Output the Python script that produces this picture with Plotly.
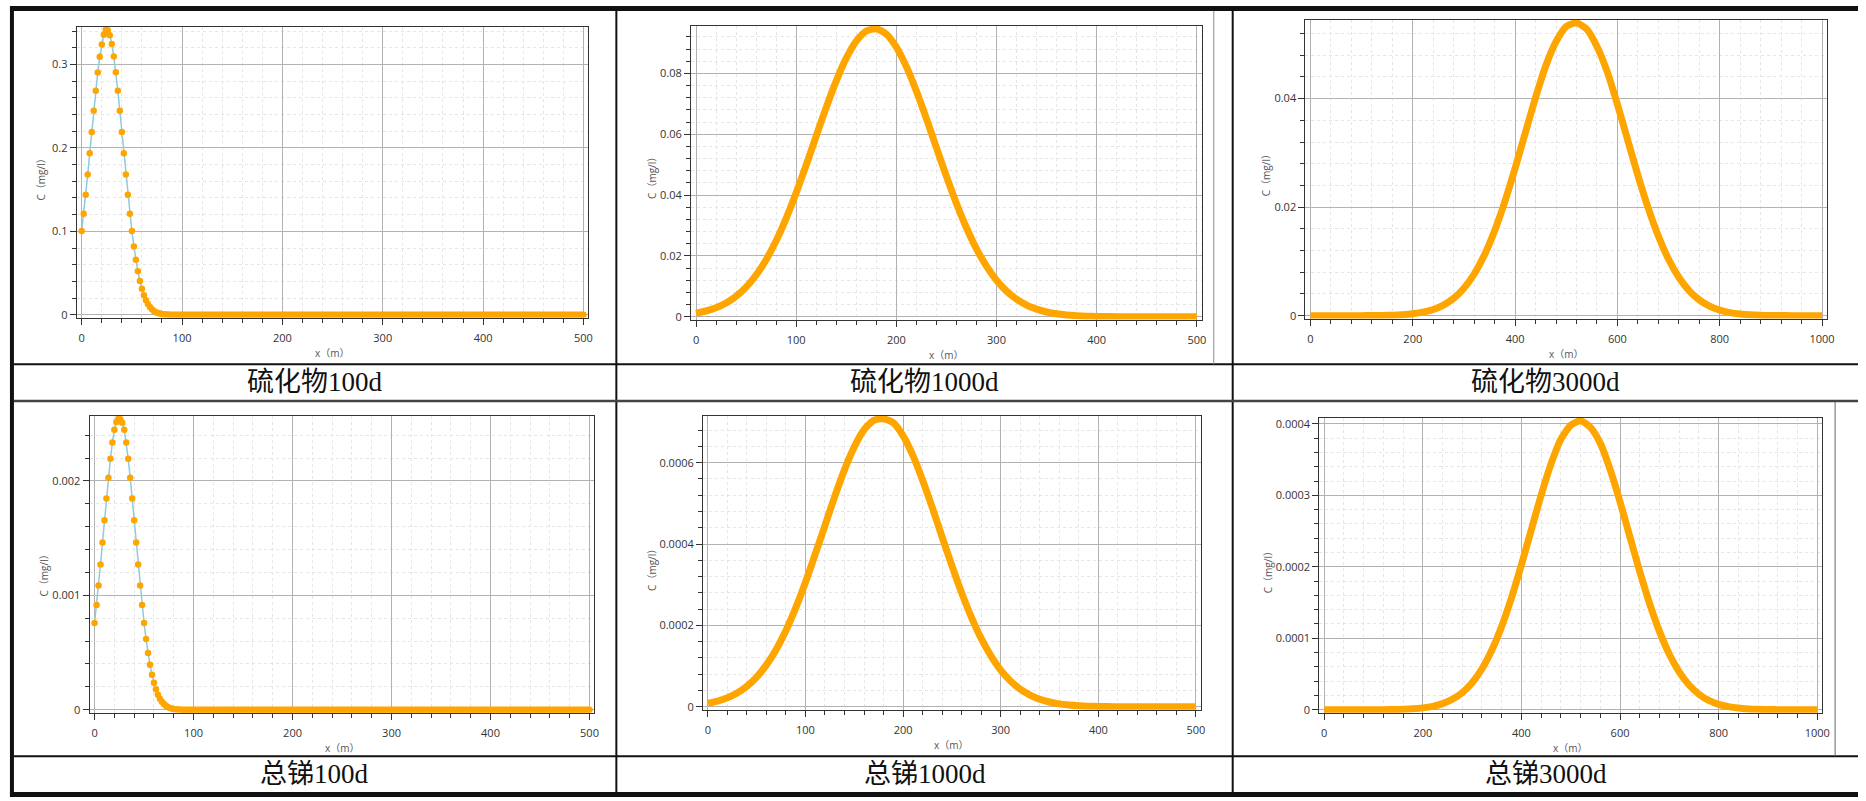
import plotly.graph_objects as go

# ---------------- data ----------------
# 100-day runs: sampled every 2 m, values read up to x = 90 m, zero afterwards
x_100d = list(range(0, 501, 2))
c_sulfide_100d_head = [
    0.1003, 0.1210, 0.1437, 0.1680, 0.1934, 0.2191, 0.2444, 0.2684, 0.2903, 0.3090,
    0.3238, 0.3355, 0.3416, 0.3410, 0.3350, 0.3245, 0.3095, 0.2905, 0.2684, 0.2444,
    0.2191, 0.1934, 0.1680, 0.1437, 0.1210, 0.1003, 0.0819, 0.0658, 0.0520, 0.0405,
    0.0311, 0.0235, 0.0174, 0.0128, 0.0092, 0.0065, 0.0046, 0.0031, 0.0021, 0.0014,
    0.0009, 0.0006, 0.0004, 0.0002, 0.0001, 0.0001,
]
c_sb_100d_head = [
    0.000758, 0.000915, 0.001086, 0.001270, 0.001462, 0.001656, 0.001847, 0.002029, 0.002194, 0.002336,
    0.002448, 0.002515, 0.002544, 0.002540, 0.002510, 0.002448, 0.002336, 0.002194, 0.002029, 0.001847,
    0.001656, 0.001462, 0.001270, 0.001086, 0.000915, 0.000758, 0.000619, 0.000497, 0.000393, 0.000306,
    0.000235, 0.000178, 0.000132, 0.0000968, 0.0000695, 0.0000491, 0.0000348, 0.0000234, 0.0000159, 0.0000106,
    0.0000068, 0.0000045, 0.0000030, 0.0000015, 0.0000008, 0.0000008,
]
c_sulfide_100d = c_sulfide_100d_head + [0.0] * (len(x_100d) - len(c_sulfide_100d_head))
c_sb_100d = c_sb_100d_head + [0.0] * (len(x_100d) - len(c_sb_100d_head))

# 1000-day runs: every 10 m
x_1000d = list(range(0, 501, 10))
c_sulfide_1000d = [
    0.00116, 0.00188, 0.00296, 0.00452, 0.00673, 0.00974, 0.01371, 0.01876, 0.02497, 0.03234,
    0.04073, 0.04988, 0.05942, 0.06884, 0.07757, 0.08502, 0.09063, 0.09396, 0.09470, 0.09292,
    0.08864, 0.08223, 0.07420, 0.06512, 0.05558, 0.04615, 0.03726, 0.02926, 0.02234, 0.01661,
    0.01199, 0.00843, 0.00576, 0.00383, 0.00248, 0.00156, 0.00095, 0.00057, 0.00033, 0.00018,
    0.00010, 0.00005, 0.00003, 0.00001, 0.0, 0.0, 0.0, 0.0, 0.0, 0.0,
    0.0,
]
c_sb_1000d = [
    0.0000087, 0.0000141, 0.0000222, 0.0000339, 0.0000505, 0.0000731, 0.000103, 0.000141, 0.0001875, 0.000243,
    0.000306, 0.000375, 0.000446, 0.000517, 0.000583, 0.000639, 0.000681, 0.000704, 0.000708, 0.000698,
    0.000666, 0.000618, 0.000557, 0.000489, 0.000417, 0.000347, 0.000280, 0.000220, 0.000168, 0.000125,
    0.0000900, 0.0000633, 0.0000433, 0.0000288, 0.0000186, 0.0000117, 0.0000071, 0.0000043, 0.0000025, 0.0000014,
    0.0000008, 0.0000004, 0.0000002, 0.0000001, 0.0, 0.0, 0.0, 0.0, 0.0, 0.0,
    0.0,
]

# 3000-day runs: every 20 m
x_3000d = list(range(0, 1001, 20))
c_sulfide_3000d = [
    0.0000001, 0.0000002, 0.0000006, 0.0000015, 0.0000037, 0.0000088, 0.0000198, 0.000043, 0.00009, 0.00018,
    0.000347, 0.000643, 0.001144, 0.001956, 0.00321, 0.005063, 0.007679, 0.01118, 0.01565, 0.02104,
    0.02717, 0.03372, 0.04021, 0.04607, 0.0505, 0.0533, 0.05397, 0.0528, 0.0496, 0.04497,
    0.03894, 0.0324, 0.02589, 0.01989, 0.01467, 0.0104, 0.007086, 0.004637, 0.002915, 0.00176,
    0.001022, 0.00057, 0.000305, 0.000157, 0.000078, 0.000037, 0.000017, 0.0000074, 0.0000031, 0.0000013,
    0.0000005,
]
c_sb_3000d = [
    0.0, 0.0, 0.0, 0.00000001, 0.00000003, 0.00000007, 0.00000015, 0.00000032, 0.00000067, 0.00000134,
    0.00000259, 0.0000048, 0.00000854, 0.0000146, 0.000024, 0.0000378, 0.0000573, 0.0000835, 0.0001169, 0.0001571,
    0.0002029, 0.0002518, 0.0003003, 0.000344, 0.0003786, 0.000398, 0.0004043, 0.000395, 0.0003726, 0.0003358,
    0.0002908, 0.000242, 0.0001933, 0.0001485, 0.0001096, 0.0000777, 0.0000529, 0.0000346, 0.0000218, 0.0000131,
    0.0000076, 0.0000043, 0.0000023, 0.0000012, 0.0000006, 0.0000003, 0.0000001, 0.0, 0.0, 0.0,
    0.0,
]

# tick values / labels
x_ticks_500 = [0, 100, 200, 300, 400, 500]
x_ticks_1000 = [0, 200, 400, 600, 800, 1000]
y_ticks_s100 = [0, 0.1, 0.2, 0.3]
y_labels_s100 = ["0", "0.1", "0.2", "0.3"]
y_ticks_s1000 = [0, 0.02, 0.04, 0.06, 0.08]
y_labels_s1000 = ["0", "0.02", "0.04", "0.06", "0.08"]
y_ticks_s3000 = [0, 0.02, 0.04]
y_labels_s3000 = ["0", "0.02", "0.04"]
y_ticks_sb100 = [0, 0.001, 0.002]
y_labels_sb100 = ["0", "0.001", "0.002"]
y_ticks_sb1000 = [0, 0.0002, 0.0004, 0.0006]
y_labels_sb1000 = ["0", "0.0002", "0.0004", "0.0006"]
y_ticks_sb3000 = [0, 0.0001, 0.0002, 0.0003, 0.0004]
y_labels_sb3000 = ["0", "0.0001", "0.0002", "0.0003", "0.0004"]

captions = ["硫化物100d", "硫化物1000d", "硫化物3000d", "总锑100d", "总锑1000d", "总锑3000d"]
x_title = "x（m）"
y_title = "C（mg/l）"

# ---------------- layout helpers ----------------
W, H = 1866, 801


def fx(p):
    return p / W


def fy(p):
    return 1 - p / H


ORANGE = "#FFA500"

panels = [
    dict(x=x_100d, y=c_sulfide_100d, style="dots", xt=x_ticks_500, xminor=20,
         yt=y_ticks_s100, yl=y_labels_s100, yminor=0.02,
         box=(77, 591, 25, 318), ytp=(41, 176)),
    dict(x=x_1000d, y=c_sulfide_1000d, style="thick", xt=x_ticks_500, xminor=20,
         yt=y_ticks_s1000, yl=y_labels_s1000, yminor=0.004,
         box=(694, 1207, 24, 320), ytp=(654, 175)),
    dict(x=x_3000d, y=c_sulfide_3000d, style="thick", xt=x_ticks_1000, xminor=40,
         yt=y_ticks_s3000, yl=y_labels_s3000, yminor=0.004,
         box=(1311, 1835, 18, 319), ytp=(1271, 172)),
    dict(x=x_100d, y=c_sb_100d, style="dots", xt=x_ticks_500, xminor=20,
         yt=y_ticks_sb100, yl=y_labels_sb100, yminor=0.0002,
         box=(90, 597, 417, 716), ytp=(44, 575)),
    dict(x=x_1000d, y=c_sb_1000d, style="thick", xt=x_ticks_500, xminor=20,
         yt=y_ticks_sb1000, yl=y_labels_sb1000, yminor=0.00004,
         box=(706, 1206, 417, 713), ytp=(655, 570)),
    dict(x=x_3000d, y=c_sb_3000d, style="thick", xt=x_ticks_1000, xminor=40,
         yt=y_ticks_sb3000, yl=y_labels_sb3000, yminor=0.00002,
         box=(1325, 1830, 419, 716), ytp=(1273, 572)),
]

caption_pos = [(316, 383), (928, 383), (1552, 383), (316, 778), (929, 778), (1553, 778)]

fig = go.Figure()
layout = dict(
    width=W, height=H,
    margin=dict(l=0, r=0, t=0, b=0),
    paper_bgcolor="white", plot_bgcolor="white",
    showlegend=False,
    font=dict(family="Open Sans, Noto Sans CJK SC, sans-serif", size=11, color="#333"),
)
annotations = []

tick_font = dict(family="Open Sans, sans-serif", size=11, color="#333")
axis_common = dict(
    showline=True, linecolor="#333", linewidth=1, mirror=True,
    ticks="outside", ticklen=6, tickwidth=1, tickcolor="#333",
    showgrid=True, gridcolor="#b2b2b2", gridwidth=1, zeroline=False,
    tickfont=tick_font, fixedrange=True,
)
MINOR_GRID = "#e6e6e6"

for i, p in enumerate(panels):
    n = "" if i == 0 else str(i + 1)
    xa, ya = "x" + n, "y" + n
    l, r, t, b = p["box"]
    xs, ys = p["x"], p["y"]
    xspan = max(xs) - min(xs)
    yspan = max(ys) - min(ys)
    xr = [min(xs) - 0.01 * xspan, max(xs) + 0.01 * xspan]
    yr = [min(ys) - 0.01 * yspan, max(ys) + 0.01 * yspan]

    if p["style"] == "dots":
        fig.add_trace(go.Scatter(
            x=xs, y=ys, xaxis=xa, yaxis=ya, mode="lines+markers",
            line=dict(color="#8ecbdc", width=1.5),
            marker=dict(color=ORANGE, size=6.5, line=dict(width=0)),
            cliponaxis=True,
        ))
    else:
        fig.add_trace(go.Scatter(
            x=xs, y=ys, xaxis=xa, yaxis=ya, mode="lines",
            line=dict(color=ORANGE, width=7, shape="spline", smoothing=0.6),
            cliponaxis=True,
        ))

    layout["xaxis" + n] = dict(
        axis_common, domain=[fx(l), fx(r)], anchor=ya, range=xr,
        tickmode="array", tickvals=p["xt"], ticktext=[str(v) for v in p["xt"]],
        ticklabelstandoff=4,
        minor=dict(tickmode="linear", tick0=0, dtick=p["xminor"], ticks="outside",
                   ticklen=4, tickcolor="#333", showgrid=True,
                   gridcolor=MINOR_GRID, griddash="dot", gridwidth=1),
    )
    layout["yaxis" + n] = dict(
        axis_common, domain=[fy(b), fy(t)], anchor=xa, range=yr,
        tickmode="array", tickvals=p["yt"], ticktext=p["yl"],
        minor=dict(tickmode="linear", tick0=0, dtick=p["yminor"], ticks="outside",
                   ticklen=4, tickcolor="#333", showgrid=True,
                   gridcolor=MINOR_GRID, griddash="dot", gridwidth=1),
    )

    # axis titles
    annotations.append(dict(
        text=x_title, x=fx((l + r) / 2), y=fy(b + 36), xref="paper", yref="paper",
        xanchor="center", yanchor="middle", showarrow=False,
        font=dict(family="Open Sans, Noto Sans CJK SC, sans-serif", size=10, color="#555"),
    ))
    annotations.append(dict(
        text=y_title, x=fx(p["ytp"][0]), y=fy(p["ytp"][1]), xref="paper", yref="paper",
        xanchor="center", yanchor="middle", showarrow=False, textangle=-90,
        font=dict(family="Open Sans, Noto Sans CJK SC, sans-serif", size=10, color="#555"),
    ))

# captions
for txt, (cx, cy) in zip(captions, caption_pos):
    annotations.append(dict(
        text=txt, x=fx(cx), y=fy(cy), xref="paper", yref="paper",
        xanchor="center", yanchor="middle", showarrow=False,
        font=dict(family="Liberation Serif, Times New Roman, Noto Sans CJK SC, serif",
                  size=27, color="#111"),
    ))

layout["annotations"] = annotations

# table borders
shapes = []


def rect(x0, y0, x1, y1, color="#111"):
    shapes.append(dict(type="rect", xref="paper", yref="paper",
                       x0=fx(x0), x1=fx(x1), y0=fy(y1), y1=fy(y0),
                       fillcolor=color, line=dict(width=0), layer="above"))


def hline(y, x0, x1, w=2, color="#111"):
    shapes.append(dict(type="line", xref="paper", yref="paper",
                       x0=fx(x0), x1=fx(x1), y0=fy(y), y1=fy(y),
                       line=dict(color=color, width=w), layer="above"))


def vline(x, y0, y1, w=2, color="#111"):
    shapes.append(dict(type="line", xref="paper", yref="paper",
                       x0=fx(x), x1=fx(x), y0=fy(y0), y1=fy(y1),
                       line=dict(color=color, width=w), layer="above"))


rect(10, 4, W, 9)          # top border
rect(10, 4, 14, H)         # left border
rect(10, 796, W, H)        # bottom border
vline(619, 9, 796)
vline(1238, 9, 796)
hline(365, 14, W)
hline(402, 14, W, w=2.5, color="#444")
hline(760, 14, W)
vline(1219, 9, 365, w=1, color="#8a8a8a")
vline(1843, 403, 760, w=1, color="#666")

layout["shapes"] = shapes
fig.update_layout(**layout)
fig.write_html("out.html")
